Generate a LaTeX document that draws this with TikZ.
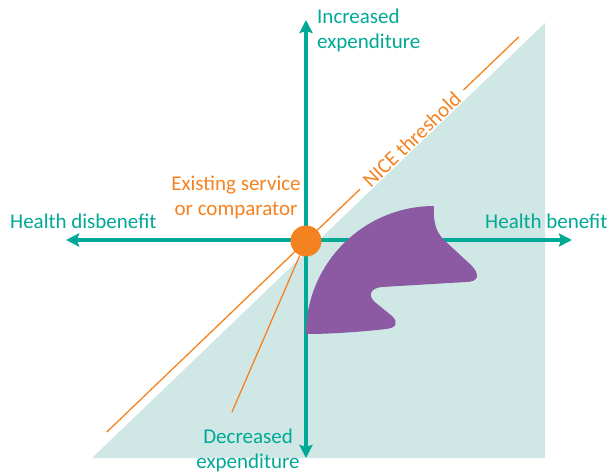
\documentclass[tikz,border=0pt]{standalone}
\usepackage{fontspec}
\setmainfont{Carlito}
\usetikzlibrary{arrows.meta}
\definecolor{nteal}{RGB}{0,168,150}
\definecolor{nlight}{RGB}{207,232,230}
\definecolor{norange}{RGB}{245,130,32}
\definecolor{npurple}{RGB}{140,89,163}
\tikzset{
  axis/.style={draw=nteal, line width=3.3pt, {Stealth[length=13pt,width=13pt,inset=2pt]}-{Stealth[length=13pt,width=13pt,inset=2pt]}},
  lbl/.style={inner sep=0pt, font=\fontsize{21}{25}\selectfont},
  thresh/.style={draw=norange, line width=1.3pt}
}
\begin{document}
\begin{tikzpicture}[x=1pt, y=-1pt]
\useasboundingbox (0,0) rectangle (609,471);

% shaded region
\fill[nlight] (92,458) -- (545,458) -- (545,23) -- cycle;

\coordinate (top) at (306,20);
\coordinate (bot) at (306,458);
\coordinate (west) at (66,240);
\coordinate (east) at (572,240);

\path[axis] (bot) -- (top);
\path[axis] (west) -- (east);

% threshold line, broken for its label
\coordinate (t0) at (106.8,432);
\coordinate (t1) at (360.1,189.1);
\coordinate (t2) at (463.4,90.1);
\coordinate (t3) at (518.9,36.8);
\path[thresh] (t0) -- (t1);
\path[thresh] (t2) -- (t3);
\path (t1) -- node[lbl, sloped, text=norange] (nice) {NICE threshold} (t2);

% new intervention
\fill[npurple] (306,334) .. controls (306,263) and (364,206) .. (434,206)
  .. controls (433,222) and (436,232) .. (444,240)
  -- (471,265)
  .. controls (481,275) and (478,282) .. (466,282)
  -- (382,287)
  .. controls (370,288) and (367,296) .. (376,303)
  -- (392,316)
  .. controls (399,323) and (396,328) .. (386,329)
  .. controls (360,332) and (330,334) .. (306,334) -- cycle;

\node[circle, fill=norange, minimum size=31pt, inner sep=0pt] (orig) at (306,241) {};
\coordinate (lead) at (232,412);
\path[thresh] (orig) -- (lead);

\node[lbl, text=nteal, align=left, anchor=base west] (incr) at (317,48) {Increased\\expenditure};
\node[lbl, text=nteal, align=center, anchor=base] (decr) at (248,468) {Decreased\\expenditure};
\node[lbl, text=norange, align=center, anchor=base] (exist) at (236,215) {Existing service\\or comparator};
\node[lbl, text=nteal, anchor=base west] (dis) at (10,228) {Health disbenefit};
\node[lbl, text=nteal, anchor=base west] (ben) at (485,228) {Health benefit};
\end{tikzpicture}
\end{document}
